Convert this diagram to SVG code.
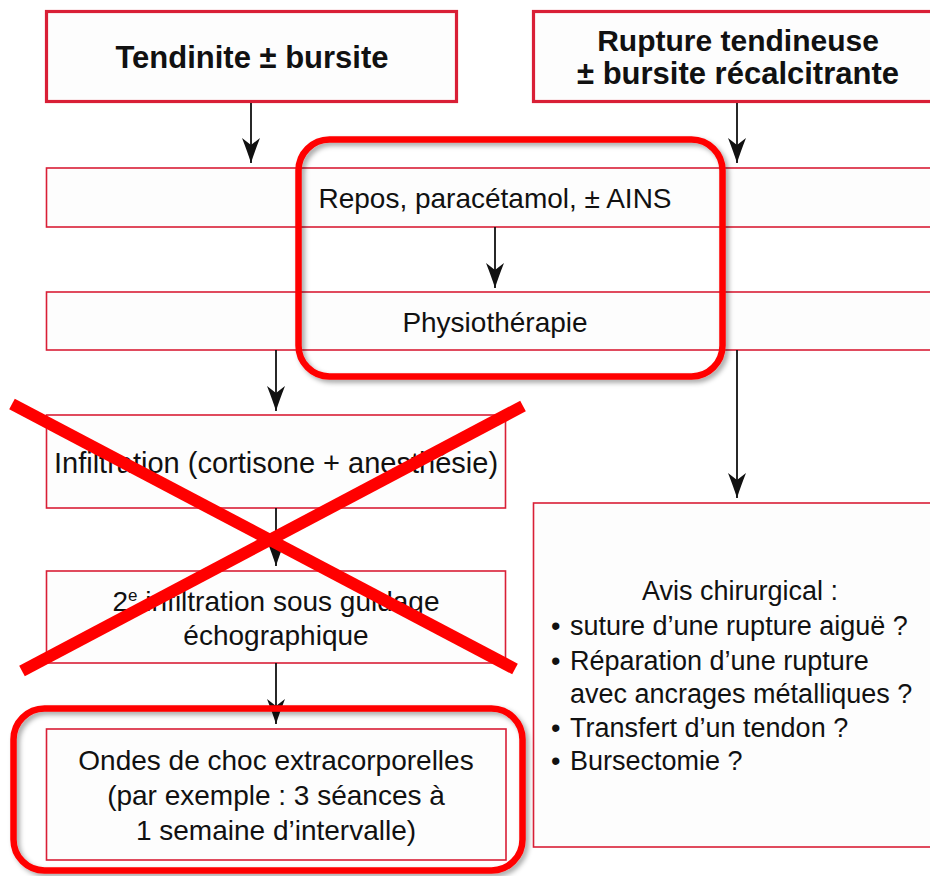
<svg xmlns="http://www.w3.org/2000/svg" width="930" height="876" viewBox="0 0 930 876">
<style>
.box{fill:#fdfdfd;stroke:#d91f36;stroke-width:1.6}
.head{fill:#fdfdfd;stroke:#d91f36;stroke-width:3.2}
.t{font-family:"Liberation Sans",Arial,sans-serif;font-size:28px;fill:#111}
.av{font-family:"Liberation Sans",Arial,sans-serif;font-size:27px;fill:#111}
.b{font-family:"Liberation Sans",Arial,sans-serif;font-size:30px;font-weight:bold;fill:#111}
.c{text-anchor:middle}
.conn{stroke:#111;stroke-width:1.8;fill:none;marker-end:url(#arr)}
.hl{fill:none;stroke:#ff0000;stroke-width:6.5;filter:url(#sh)}
.x{stroke:#ff0000;stroke-width:12;stroke-linecap:butt}
</style>
<defs>
<marker id="arr" markerUnits="userSpaceOnUse" viewBox="-25 -9 26 18" refX="0" refY="0" markerWidth="26" markerHeight="18" orient="auto">
<path d="M0,0 Q-11,-3.5 -25,-9 L-18,0 L-25,9 Q-11,3.5 0,0 Z" fill="#111"/>
</marker>
<filter id="sh" x="-10%" y="-10%" width="120%" height="120%">
<feDropShadow dx="3" dy="3" stdDeviation="2.5" flood-color="#000" flood-opacity="0.35"/>
</filter>
</defs>
<rect width="930" height="876" fill="#fff"/>

<g id="n-tendinite">
<rect class="head" x="46.5" y="11.5" width="410" height="90"/>
<text class="b c" x="252" y="68" style="font-size:31px">Tendinite ± bursite</text>
</g>
<g id="n-rupture">
<rect class="head" x="533.5" y="11.5" width="410" height="90"/>
<text class="b c" x="738" y="51">Rupture tendineuse</text>
<text class="b c" x="738" y="84" style="font-size:31px">± bursite récalcitrante</text>
</g>
<g id="n-repos">
<rect class="box" x="46.5" y="168" width="900" height="59"/>
<text class="t c" x="495" y="208">Repos, paracétamol, ± AINS</text>
</g>
<g id="n-physio">
<rect class="box" x="46.5" y="292" width="900" height="58"/>
<text class="t c" x="495" y="332">Physiothérapie</text>
</g>
<g id="n-infiltration">
<rect class="box" x="46.5" y="415" width="459" height="93"/>
<text class="t c" x="276" y="473" style="font-size:29px">Infiltration (cortisone + anesthésie)</text>
</g>
<g id="n-infiltration2">
<rect class="box" x="46.5" y="571" width="459" height="92"/>
<text class="t c" x="276" y="611">2<tspan style="font-size:17px" dy="-10">e</tspan><tspan dy="10"> infiltration sous guidage</tspan></text>
<text class="t c" x="276" y="645">échographique</text>
</g>
<g id="n-ondes">
<rect class="box" x="46.5" y="729" width="459.5" height="131"/>
<text class="t c" x="276" y="770">Ondes de choc extracorporelles</text>
<text class="t c" x="276" y="805">(par exemple : 3 séances à</text>
<text class="t c" x="276" y="840">1 semaine d’intervalle)</text>
</g>
<g id="n-avis">
<rect class="box" x="533.5" y="503" width="410" height="344"/>
<text class="av c" x="740" y="600">Avis chirurgical :</text>
<text class="av" x="551" y="635">•</text>
<text class="av" x="570" y="635">suture d’une rupture aiguë ?</text>
<text class="av" x="551" y="670">•</text>
<text class="av" x="570" y="670">Réparation d’une rupture</text>
<text class="av" x="570" y="703">avec ancrages métalliques ?</text>
<text class="av" x="551" y="737">•</text>
<text class="av" x="570" y="737">Transfert d’un tendon ?</text>
<text class="av" x="551" y="770">•</text>
<text class="av" x="570" y="770">Bursectomie ?</text>
</g>

<g id="connectors">
<line class="conn" x1="251" y1="103" x2="251" y2="163"/>
<line class="conn" x1="737" y1="103" x2="737" y2="163"/>
<line class="conn" x1="495" y1="227" x2="495" y2="288"/>
<line class="conn" x1="276" y1="350" x2="276" y2="411"/>
<line class="conn" x1="737" y1="350" x2="737" y2="498"/>
<line class="conn" x1="276" y1="508" x2="276" y2="566"/>
<line class="conn" x1="276" y1="663" x2="276" y2="724"/>
</g>

<g id="cross">
<line class="x" x1="12" y1="404" x2="515" y2="669"/>
<line class="x" x1="523" y1="406" x2="22" y2="671"/>
</g>

<g id="highlights">
<rect class="hl" x="298.5" y="139.5" width="424" height="237" rx="31"/>
<rect class="hl" x="13.5" y="708.5" width="509" height="162" rx="31"/>
</g>
</svg>
